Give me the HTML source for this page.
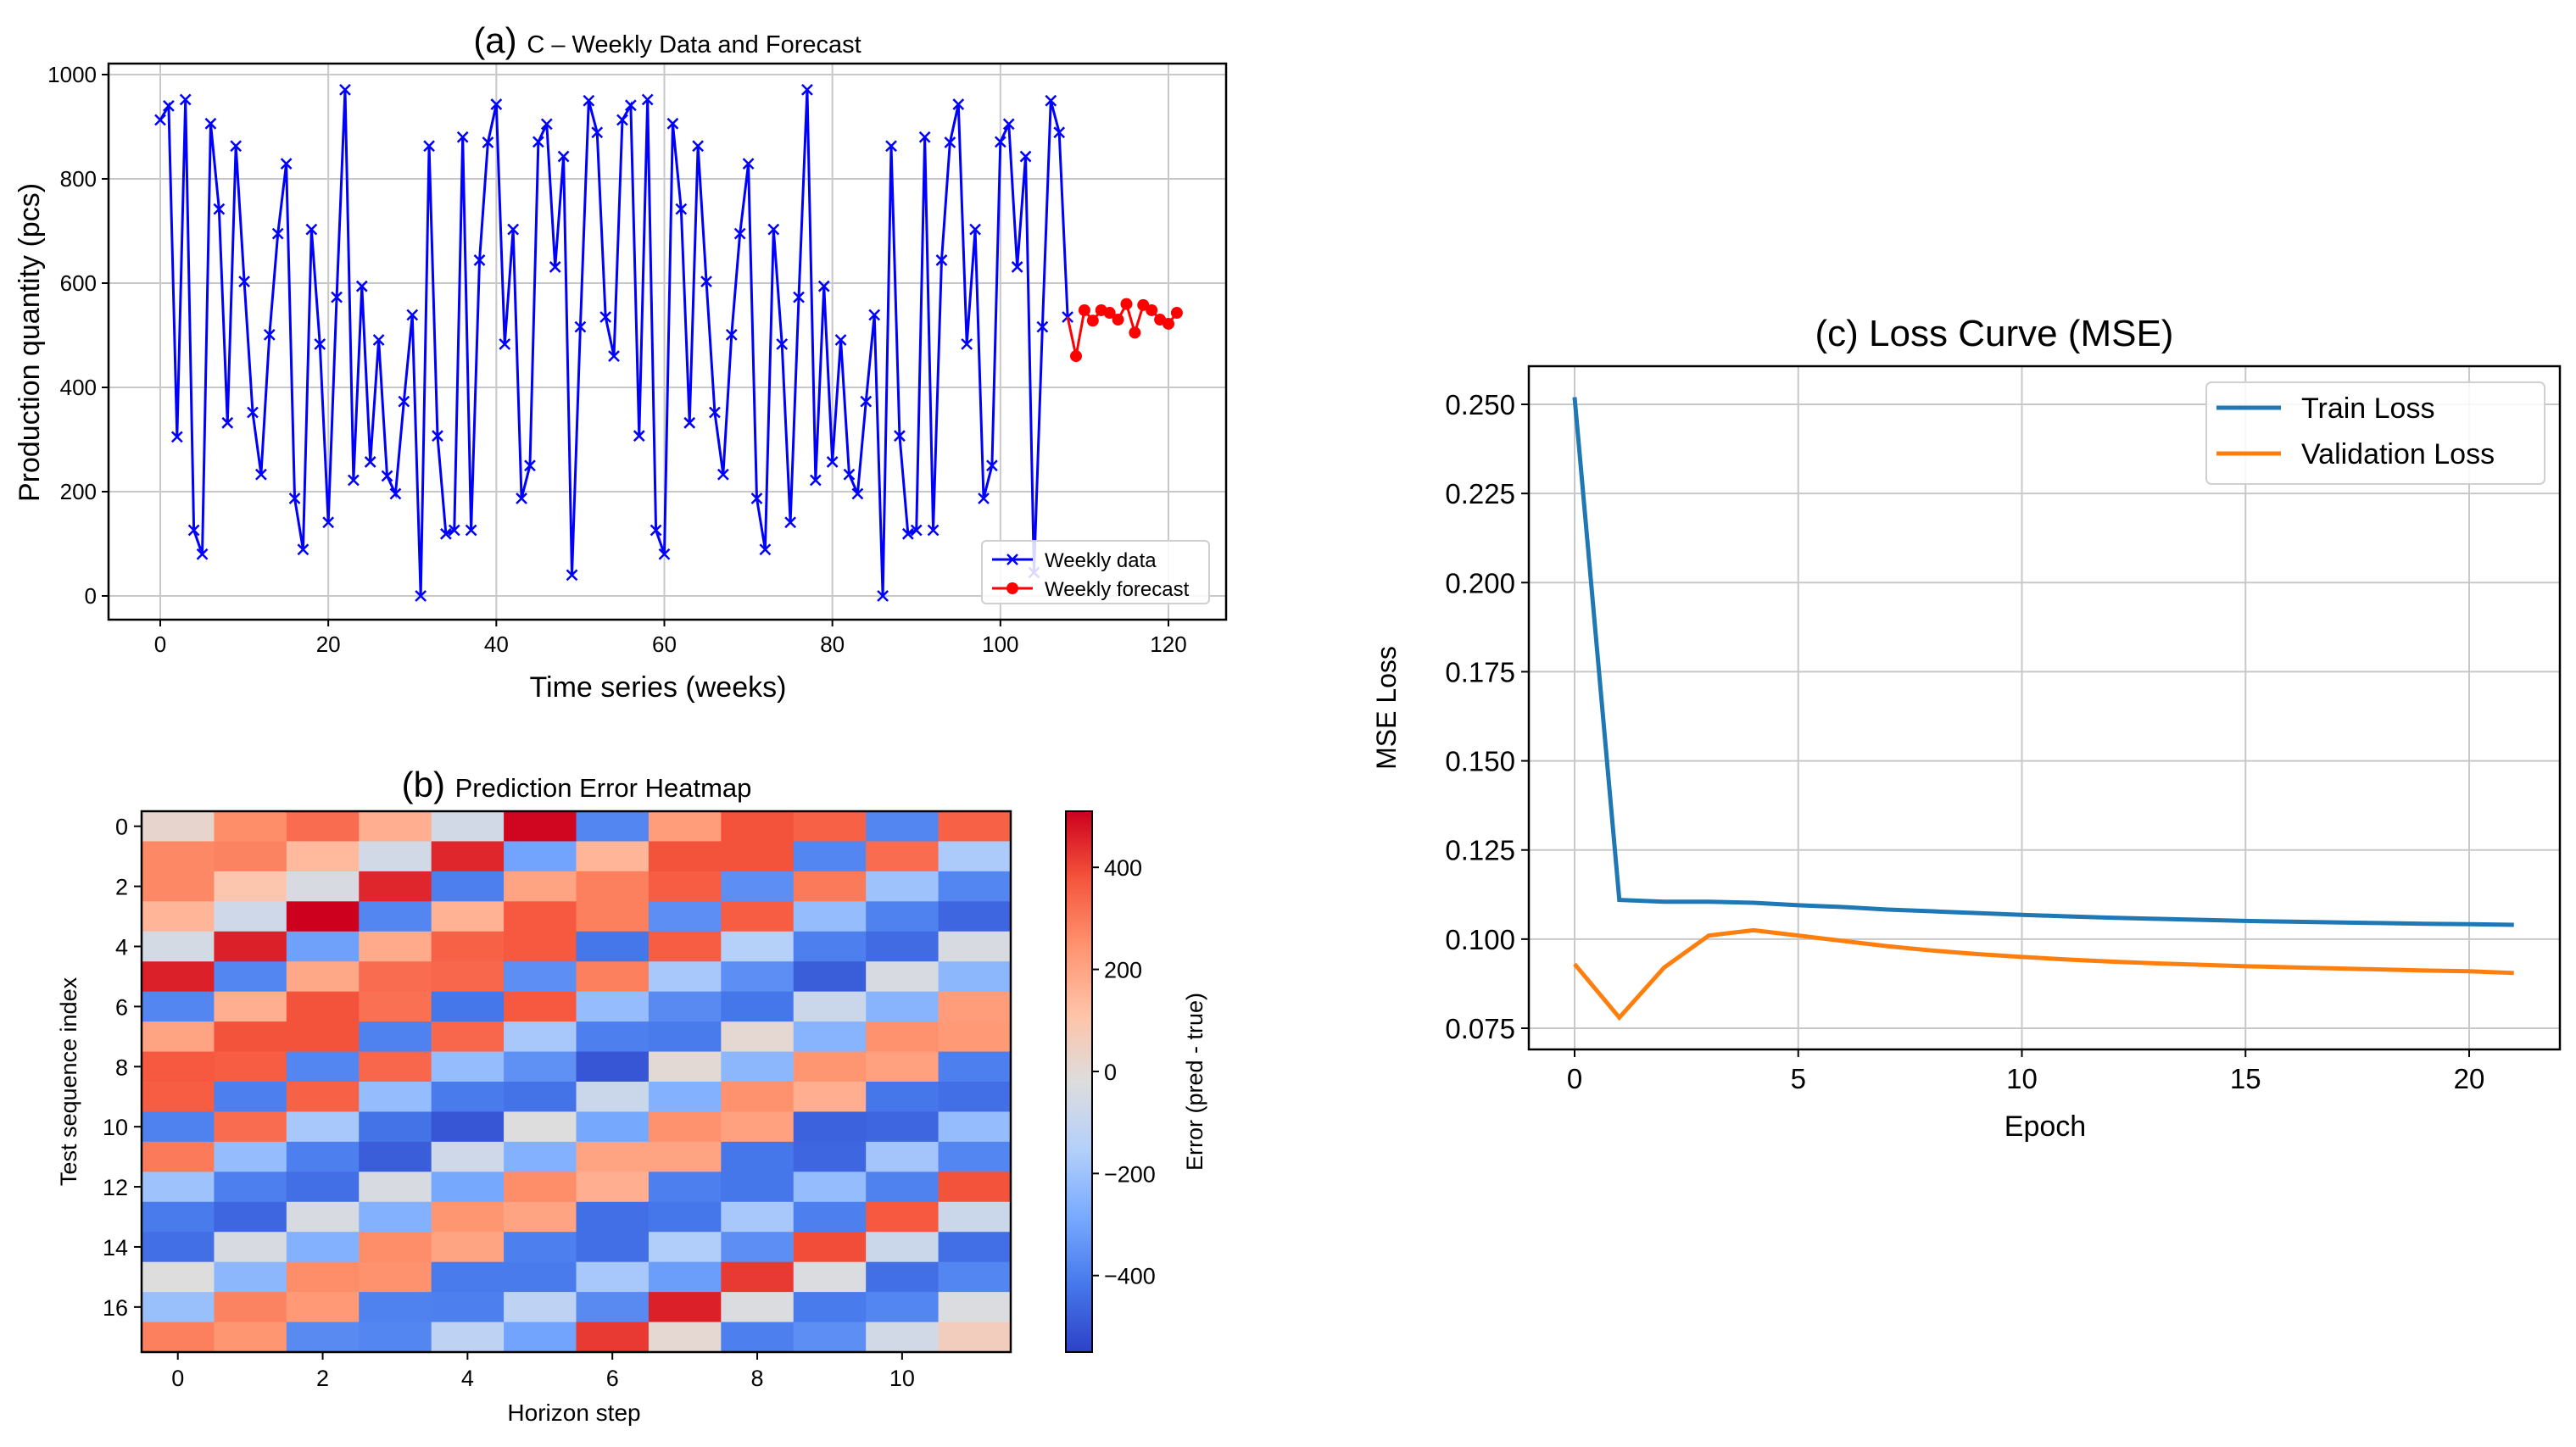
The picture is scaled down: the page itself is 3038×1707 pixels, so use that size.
<!DOCTYPE html>
<html><head><meta charset="utf-8"><style>
html,body{margin:0;padding:0;background:#fff;}
svg{display:block;font-family:"Liberation Sans",sans-serif;}
</style></head><body>
<svg id="fig" xmlns="http://www.w3.org/2000/svg" width="3038" height="1707" viewBox="0 0 3038 1707">
<rect width="3038" height="1707" fill="#fff"/>
<g id="pa"></g>
<g id="pb"></g>
<g id="pc"></g>
</svg>
<script>
// ---- Panel (a) data ----
const weeklyData=[913,940,305,952,126,80,906,742,332,863,603,352,233,501,695,829,187,89,703,483,141,573,971,222,594,257,491,230,196,373,539,0,863,307,119,126,880,126,644,870,943,483,703,187,250,871,905,631,843,40,516,950,889,535,460,913,941,307,952,126,80,906,742,332,863,603,352,233,501,695,829,187,89,703,483,141,573,971,222,594,257,491,233,196,373,539,0,863,307,119,126,880,126,644,870,943,483,703,187,250,871,905,631,843,45,516,950,889,535];
const forecastStart=109;
const forecastData=[460,548,528,548,543,530,560,505,558,548,530,522,543];
const aXTicks=[0,20,40,60,80,100,120];
const aYTicks=[0,200,400,600,800,1000];
// ---- Panel (b) data ----
const hmCols=12;
const hmValues=[
[20,260,330,170,-60,500,-380,220,380,350,-380,350],
[270,280,140,-60,450,-300,150,380,380,-380,330,-170],
[270,100,-40,450,-400,200,290,360,-360,300,-200,-380],
[150,-70,510,-380,160,370,290,-360,360,-220,-390,-460],
[-50,460,-310,180,350,370,-420,360,-150,-400,-450,-40],
[460,-380,190,330,340,-360,290,-180,-360,-480,-40,-240],
[-380,170,380,320,-420,370,-220,-370,-420,-80,-250,220],
[200,380,380,-390,340,-180,-400,-410,10,-250,250,230],
[370,360,-380,340,-220,-350,-500,0,-240,240,210,-400],
[360,-400,350,-220,-410,-430,-80,-260,250,170,-420,-440],
[-390,330,-180,-430,-500,-20,-290,250,210,-470,-460,-220],
[300,-220,-400,-480,-70,-260,200,200,-420,-460,-190,-380],
[-200,-400,-440,-40,-290,260,170,-400,-420,-220,-390,380],
[-410,-460,-40,-260,240,200,-440,-420,-180,-400,370,-80],
[-440,-40,-260,260,200,-400,-440,-160,-360,390,-80,-440],
[-20,-240,260,250,-410,-410,-180,-320,420,-30,-440,-380],
[-210,280,230,-390,-400,-120,-370,460,-30,-410,-380,-30],
[290,240,-370,-380,-120,-300,420,10,-400,-360,-60,60]];
const hmXTicks=[0,2,4,6,8,10];
const hmYTicks=[0,2,4,6,8,10,12,14,16];
const cbTicks=[-400,-200,0,200,400];
const cbMin=-550, cbMax=510;
// ---- Panel (c) data ----
const epochs=[0,1,2,3,4,5,6,7,8,9,10,11,12,13,14,15,16,17,18,19,20,21];
const trainLoss=[0.252,0.111,0.1105,0.1105,0.1102,0.1095,0.109,0.1083,0.1078,0.1073,0.1068,0.1064,0.106,0.1057,0.1054,0.1051,0.1049,0.1047,0.1045,0.1043,0.1042,0.104];
const valLoss=[0.093,0.078,0.092,0.101,0.1025,0.101,0.0995,0.098,0.0968,0.0958,0.095,0.0943,0.0937,0.0932,0.0928,0.0924,0.0921,0.0918,0.0915,0.0912,0.091,0.0905];
const cXTicks=[0,5,10,15,20];
const cYTicks=[0.075,0.1,0.125,0.15,0.175,0.2,0.225,0.25];

const NS="http://www.w3.org/2000/svg";
function mk(parent,tag,attrs,text){const e=document.createElementNS(NS,tag);for(const k in attrs)e.setAttribute(k,attrs[k]);if(text!==undefined)e.textContent=text;parent.appendChild(e);return e;}

// ================= Panel A =================
(function(){
const g=document.getElementById('pa');
const L=128,R=1446,T=75,B=731;
const x=v=>189+(v-0)*(1378-189)/120;
const y=v=>703-(v)*(703-88)/1000;
aYTicks.forEach(t=>{
 const gl=mk(g,'line',{x1:L,x2:R,y1:y(t),y2:y(t),stroke:'#c8c8c8','stroke-width':2});
 
 
 mk(g,'line',{x1:L-8,x2:L,y1:y(t),y2:y(t),stroke:'#000','stroke-width':2});
 const tl=mk(g,'text',{x:L-14,y:y(t)+9,'text-anchor':'end','font-size':26},String(t));
 
 
});
aXTicks.forEach(t=>{
 const gl=mk(g,'line',{x1:x(t),x2:x(t),y1:T,y2:B,stroke:'#c8c8c8','stroke-width':2});
 
 
 mk(g,'line',{x1:x(t),x2:x(t),y1:B,y2:B+8,stroke:'#000','stroke-width':2});
 const tl=mk(g,'text',{x:x(t),y:B+38,'text-anchor':'middle','font-size':26},String(t));
 
 
});
let fp=`${x(weeklyData.length-1)},${y(weeklyData[weeklyData.length-1])} `+forecastData.map((v,i)=>`${x(forecastStart+i)},${y(v)}`).join(' ');
let pts=weeklyData.map((v,i)=>`${x(i)},${y(v)}`).join(' ');
const bl=mk(g,'polyline',{points:pts,fill:'none',stroke:'#0000ff','stroke-width':3});


weeklyData.forEach((v,i)=>{
 const cx=x(i),cy=y(v),s=6;
 const m=mk(g,'path',{d:`M${cx-s},${cy-s}L${cx+s},${cy+s}M${cx-s},${cy+s}L${cx+s},${cy-s}`,stroke:'#0000ff','stroke-width':2.5});
 
 
});
const rl=mk(g,'polyline',{points:fp,fill:'none',stroke:'#ff0000','stroke-width':3});


forecastData.forEach((v,i)=>{
 const m=mk(g,'circle',{cx:x(forecastStart+i),cy:y(v),r:7,fill:'#ff0000'});
 
 
});
const fr=mk(g,'rect',{x:L,y:T,width:R-L,height:B-T,fill:'none',stroke:'#000','stroke-width':2.5});


const lg=mk(g,'g',{});


mk(lg,'rect',{x:1158,y:638,width:268,height:74,rx:5,fill:'#fff','fill-opacity':0.85,stroke:'#d0d0d0','stroke-width':2});
mk(lg,'line',{x1:1170,x2:1218,y1:660,y2:660,stroke:'#0000ff','stroke-width':3});
mk(lg,'path',{d:'M1188,654L1200,666M1188,666L1200,654',stroke:'#0000ff','stroke-width':2.5});
mk(lg,'text',{x:1232,y:669,'font-size':24},'Weekly data');
mk(lg,'line',{x1:1170,x2:1218,y1:694,y2:694,stroke:'#ff0000','stroke-width':3});
mk(lg,'circle',{cx:1194,cy:694,r:7,fill:'#ff0000'});
mk(lg,'text',{x:1232,y:703,'font-size':24},'Weekly forecast');
const tt=mk(g,'text',{x:787,y:62,'text-anchor':'middle'});


mk(tt,'tspan',{'font-size':42},'(a) ');
mk(tt,'tspan',{'font-size':29},'C – Weekly Data and Forecast');
const yl=mk(g,'text',{x:0,y:0,'text-anchor':'middle','font-size':34,transform:'translate(46,404) rotate(-90)'},'Production quantity (pcs)');


const xl=mk(g,'text',{x:776,y:822,'text-anchor':'middle','font-size':34},'Time series (weeks)');


})();

// ================= Panel B =================
const cmapStops=[[0,[45,65,200]],[0.125,[70,120,235]],[0.25,[120,170,255]],[0.375,[180,208,250]],[0.5,[221,221,221]],[0.625,[255,195,168]],[0.75,[255,148,112]],[0.875,[245,85,60]],[1,[205,0,30]]];
function coolwarm(t){t=Math.max(0,Math.min(1,t));for(let i=1;i<cmapStops.length;i++){if(t<=cmapStops[i][0]){const a=cmapStops[i-1],b=cmapStops[i];const f=(t-a[0])/(b[0]-a[0]);const c=a[1].map((v,k)=>Math.round(v+(b[1][k]-v)*f));return `rgb(${c})`;}}return 'rgb(205,0,30)';}
(function(){
const g=document.getElementById('pb');
const L=167,R=1192,T=957,B=1595;
const rows=hmValues.length;
const cw=(R-L)/hmCols,rh=(B-T)/rows;
const norm=v=>(v-cbMin)/(cbMax-cbMin);
hmValues.forEach((row,r)=>row.forEach((v,c)=>{
 const cell=mk(g,'rect',{x:L+c*cw,y:T+r*rh,width:cw+0.6,height:rh+0.6,fill:coolwarm(norm(v))});
 
 
}));
mk(g,'rect',{x:L,y:T,width:R-L,height:B-T,fill:'none',stroke:'#000','stroke-width':2.5});
hmXTicks.forEach(t=>{const cx=L+(t+0.5)*cw;mk(g,'line',{x1:cx,x2:cx,y1:B,y2:B+9,stroke:'#000','stroke-width':2});
 const tl=mk(g,'text',{x:cx,y:B+40,'text-anchor':'middle','font-size':27},String(t));
 
 });
hmYTicks.forEach(t=>{const cy=T+(t+0.5)*rh;mk(g,'line',{x1:L-9,x2:L,y1:cy,y2:cy,stroke:'#000','stroke-width':2});
 const tl=mk(g,'text',{x:L-16,y:cy+10,'text-anchor':'end','font-size':27},String(t));
 
 });
const cbL=1257,cbR=1288;
const cby=v=>B-(v-cbMin)/(cbMax-cbMin)*(B-T);
const defs=mk(g,'defs',{});
const grad=mk(defs,'linearGradient',{id:'cbg',x1:0,y1:1,x2:0,y2:0});
cmapStops.forEach(s=>mk(grad,'stop',{offset:s[0],'stop-color':`rgb(${s[1]})`}));
const cb=mk(g,'rect',{x:cbL,y:T,width:cbR-cbL,height:B-T,fill:'url(#cbg)',stroke:'#000','stroke-width':2});


cbTicks.forEach(t=>{mk(g,'line',{x1:cbR,x2:cbR+8,y1:cby(t),y2:cby(t),stroke:'#000','stroke-width':2});
 const tl=mk(g,'text',{x:cbR+14,y:cby(t)+10,'font-size':27},t<0?'−'+Math.abs(t):String(t));
 
 });
const ct=mk(g,'text',{x:0,y:0,'text-anchor':'middle','font-size':27,transform:'translate(1418,1276) rotate(-90)'},'Error (pred - true)');


const tt=mk(g,'text',{x:680,y:940,'text-anchor':'middle'});


mk(tt,'tspan',{'font-size':42},'(b) ');
mk(tt,'tspan',{'font-size':31},'Prediction Error Heatmap');
const yl=mk(g,'text',{x:0,y:0,'text-anchor':'middle','font-size':27,transform:'translate(90,1276) rotate(-90)'},'Test sequence index');


const xl=mk(g,'text',{x:677,y:1676,'text-anchor':'middle','font-size':28},'Horizon step');


})();

// ================= Panel C =================
(function(){
const g=document.getElementById('pc');
const L=1803,R=3019,T=432,B=1238;
const x=v=>1857+v*(2912-1857)/20;
const y=v=>477+(0.25-v)*(1213-477)/0.175;
cYTicks.forEach(t=>{
 const gl=mk(g,'line',{x1:L,x2:R,y1:y(t),y2:y(t),stroke:'#c8c8c8','stroke-width':2});
 
 
 mk(g,'line',{x1:L-9,x2:L,y1:y(t),y2:y(t),stroke:'#000','stroke-width':2});
 const tl=mk(g,'text',{x:L-16,y:y(t)+12,'text-anchor':'end','font-size':33},t.toFixed(3));
 
 
});
cXTicks.forEach(t=>{
 const gl=mk(g,'line',{x1:x(t),x2:x(t),y1:T,y2:B,stroke:'#c8c8c8','stroke-width':2});
 
 
 mk(g,'line',{x1:x(t),x2:x(t),y1:B,y2:B+9,stroke:'#000','stroke-width':2});
 const tl=mk(g,'text',{x:x(t),y:B+46,'text-anchor':'middle','font-size':33},String(t));
 
 
});
const tl1=mk(g,'polyline',{points:epochs.map((e,i)=>`${x(e)},${y(trainLoss[i])}`).join(' '),fill:'none',stroke:'#1f77b4','stroke-width':5});


const vl=mk(g,'polyline',{points:epochs.map((e,i)=>`${x(e)},${y(valLoss[i])}`).join(' '),fill:'none',stroke:'#ff7f0e','stroke-width':5});


mk(g,'rect',{x:L,y:T,width:R-L,height:B-T,fill:'none',stroke:'#000','stroke-width':2.5});
const lg=mk(g,'g',{});


mk(lg,'rect',{x:2602,y:451,width:399,height:120,rx:6,fill:'#fff','fill-opacity':0.85,stroke:'#d0d0d0','stroke-width':2});
mk(lg,'line',{x1:2614,x2:2690,y1:481,y2:481,stroke:'#1f77b4','stroke-width':5});
mk(lg,'text',{x:2714,y:493,'font-size':34},'Train Loss');
mk(lg,'line',{x1:2614,x2:2690,y1:535,y2:535,stroke:'#ff7f0e','stroke-width':5});
mk(lg,'text',{x:2714,y:547,'font-size':34},'Validation Loss');
const tt=mk(g,'text',{x:2352,y:408,'text-anchor':'middle','font-size':44});


tt.textContent='(c)  Loss Curve (MSE)';
const yl=mk(g,'text',{x:0,y:0,'text-anchor':'middle','font-size':32,transform:'translate(1646,835) rotate(-90)'},'MSE Loss');


const xl=mk(g,'text',{x:2412,y:1340,'text-anchor':'middle','font-size':34},'Epoch');


})();
</script>
</body></html>
